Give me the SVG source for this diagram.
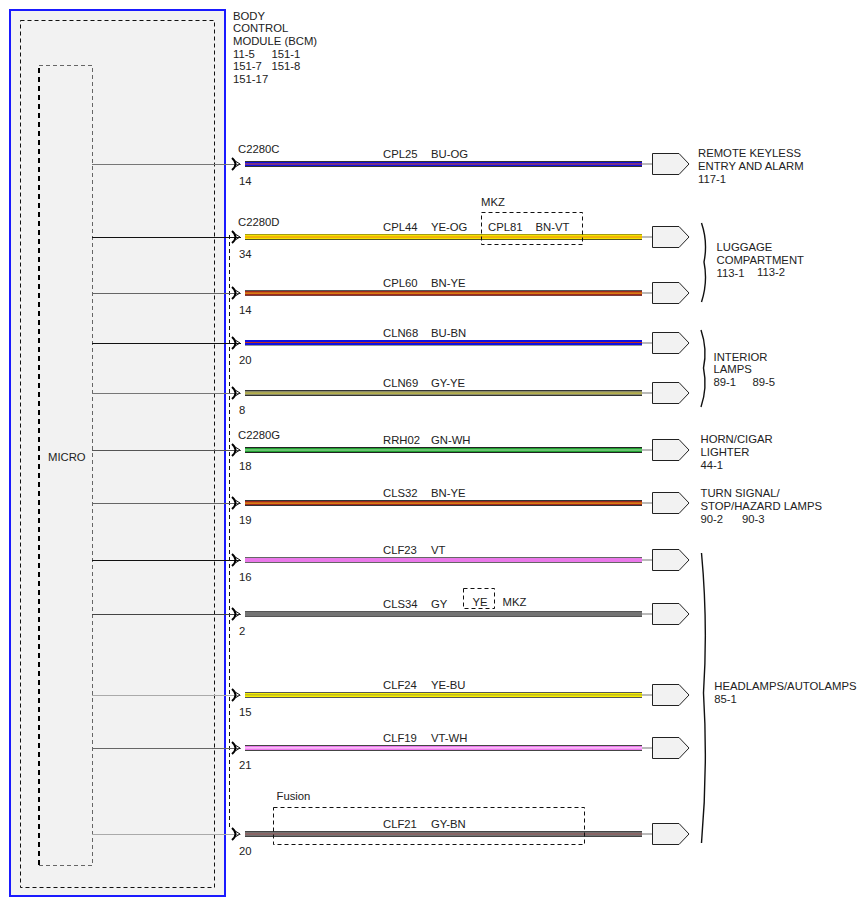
<svg xmlns="http://www.w3.org/2000/svg" width="867" height="906" viewBox="0 0 867 906">
<style>
text{font-family:"Liberation Sans",Arial,sans-serif;font-size:11.3px;fill:#222}
.lead{stroke-width:1;fill:none}
.pent{fill:#f2f2f2;stroke:#222;stroke-width:1}
.tail{stroke:#777;stroke-width:1.2}
.jack{fill:none;stroke:#000;stroke-width:2}
.chev{fill:none;stroke:#111;stroke-width:1}
.dash{fill:none;stroke:#111;stroke-width:1;stroke-dasharray:4,3}
.brace{fill:none;stroke:#111;stroke-width:1.4}
</style>
<rect width="867" height="906" fill="#fff"/>
<g id="bcm">
<rect x="10" y="10" width="215" height="886" fill="#f2f2f2" stroke="#1a1aff" stroke-width="2"/>
<rect x="20.5" y="20.5" width="194" height="867" class="dash" stroke-dasharray="5,4"/>
<text x="233" y="19.5">BODY</text>
<text x="233" y="32.2">CONTROL</text>
<text x="233" y="44.9">MODULE (BCM)</text>
<text x="233" y="57.6">11-5</text><text x="271.5" y="57.6">151-1</text>
<text x="233" y="70.3">151-7</text><text x="271.5" y="70.3">151-8</text>
<text x="233" y="83">151-17</text>
</g>
<g id="micro">
<path d="M39,865 V65" fill="none" stroke="#000" stroke-width="2" stroke-dasharray="5,4"/>
<path d="M39,65.5 H92.5 V865.5 H39" fill="none" stroke="#666" stroke-width="1" stroke-dasharray="4,3"/>
<text x="48" y="461">MICRO</text>
</g>
<path d="M229.5,235 V829" class="dash"/>
<g id="connectors">
<path class="lead" stroke="#777" d="M92,164.5 H241"/>
<path class="lead" stroke="#111" d="M92,237.5 H241"/>
<path class="lead" stroke="#666" d="M92,293.5 H241"/>
<path class="lead" stroke="#111" d="M92,343.5 H241"/>
<path class="lead" stroke="#777" d="M92,393.5 H241"/>
<path class="lead" stroke="#555" d="M92,450.5 H241"/>
<path class="lead" stroke="#666" d="M92,503.5 H241"/>
<path class="lead" stroke="#111" d="M92,560.5 H241"/>
<path class="lead" stroke="#444" d="M92,614.5 H241"/>
<path class="lead" stroke="#aaa" d="M92,695.5 H241"/>
<path class="lead" stroke="#666" d="M92,748.5 H241"/>
<path class="lead" stroke="#aaa" d="M92,834.5 H241"/>
<g>
<path class="jack" d="M232,158 Q239,164 232,170"/><path class="chev" d="M236,161.5 L240,164 L236,166.5"/>
<path class="jack" d="M232,231 Q239,237 232,243"/><path class="chev" d="M236,234.5 L240,237 L236,239.5"/>
<path class="jack" d="M232,287 Q239,293 232,299"/><path class="chev" d="M236,290.5 L240,293 L236,295.5"/>
<path class="jack" d="M232,337 Q239,343 232,349"/><path class="chev" d="M236,340.5 L240,343 L236,345.5"/>
<path class="jack" d="M232,387 Q239,393 232,399"/><path class="chev" d="M236,390.5 L240,393 L236,395.5"/>
<path class="jack" d="M232,444 Q239,450 232,456"/><path class="chev" d="M236,447.5 L240,450 L236,452.5"/>
<path class="jack" d="M232,497 Q239,503 232,509"/><path class="chev" d="M236,500.5 L240,503 L236,505.5"/>
<path class="jack" d="M232,554 Q239,560 232,566"/><path class="chev" d="M236,557.5 L240,560 L236,562.5"/>
<path class="jack" d="M232,608 Q239,614 232,620"/><path class="chev" d="M236,611.5 L240,614 L236,616.5"/>
<path class="jack" d="M232,689 Q239,695 232,701"/><path class="chev" d="M236,692.5 L240,695 L236,697.5"/>
<path class="jack" d="M232,742 Q239,748 232,754"/><path class="chev" d="M236,745.5 L240,748 L236,750.5"/>
<path class="jack" d="M232,828 Q239,834 232,840"/><path class="chev" d="M236,831.5 L240,834 L236,836.5"/>
</g>
<g id="w1"><rect x="245" y="161" width="397" height="6" fill="#333"/><rect x="245" y="162" width="397" height="4" fill="#1010e0"/><rect x="245" y="163.5" width="397" height="1" fill="#e05030"/></g>
<g id="w2"><rect x="245" y="234" width="397" height="6" fill="#555520"/><rect x="245" y="234.5" width="397" height="4.5" fill="#f4e400"/><rect x="245" y="236.5" width="397" height="1" fill="#f08010"/></g>
<g id="w3"><rect x="245" y="290" width="397" height="6" fill="#555"/><rect x="245" y="291" width="397" height="4.5" fill="#a0281c"/><rect x="245" y="292.5" width="397" height="1.2" fill="#f0a010"/></g>
<g id="w4"><rect x="245" y="340" width="397" height="6" fill="#999"/><rect x="245" y="340" width="397" height="5" fill="#1010e0"/><rect x="245" y="342" width="397" height="1" fill="#c03020"/></g>
<g id="w5"><rect x="245" y="390" width="397" height="6" fill="#333"/><rect x="245" y="391" width="397" height="4" fill="#8a8a6a"/><rect x="245" y="392.5" width="397" height="1.2" fill="#c8c040"/></g>
<g id="w6"><rect x="245" y="447" width="397" height="6" fill="#222"/><rect x="245" y="448" width="397" height="4" fill="#20a030"/><rect x="245" y="449.5" width="397" height="1" fill="#b0e8b0"/></g>
<g id="w7"><rect x="245" y="500" width="397" height="6" fill="#333"/><rect x="245" y="501" width="397" height="4" fill="#a0281c"/><rect x="245" y="502.5" width="397" height="1.2" fill="#f0a010"/></g>
<g id="w8"><rect x="245" y="557" width="397" height="6" fill="#666"/><rect x="245" y="558" width="397" height="4" fill="#ea78ea"/></g>
<g id="w9"><rect x="245" y="611" width="397" height="6" fill="#555"/><rect x="245" y="612" width="397" height="4" fill="#747474"/></g>
<g id="w10"><rect x="245" y="692" width="397" height="6" fill="#555"/><rect x="245" y="693" width="397" height="4" fill="#f8f000"/><rect x="245" y="694.5" width="397" height="0.8" fill="#8a8a40"/></g>
<g id="w11"><rect x="245" y="745" width="397" height="6" fill="#444"/><rect x="245" y="746" width="397" height="4" fill="#ea78ea"/><rect x="245" y="747.3" width="397" height="1.2" fill="#ffd8ff"/></g>
<g id="w12"><rect x="245" y="831" width="397" height="6" fill="#444"/><rect x="245" y="832" width="397" height="4" fill="#727272"/><rect x="245" y="833.5" width="397" height="1" fill="#a05858"/></g>
<path class="tail" d="M642,164 H652 M642,237 H652 M642,293 H652 M642,343 H652 M642,393 H652 M642,450 H652 M642,503 H652 M642,560 H652 M642,614 H652 M642,695 H652 M642,748 H652 M642,834 H652"/>
</g>
<g id="wire-labels">
<text x="238" y="153">C2280C</text><text x="239" y="185">14</text>
<text x="383" y="158">CPL25</text><text x="431" y="158">BU-OG</text>
<text x="238" y="226">C2280D</text><text x="239" y="258">34</text>
<text x="383" y="231">CPL44</text><text x="431" y="231">YE-OG</text>
<text x="239" y="314">14</text>
<text x="383" y="287">CPL60</text><text x="431" y="287">BN-YE</text>
<text x="239" y="364">20</text>
<text x="383" y="337">CLN68</text><text x="431" y="337">BU-BN</text>
<text x="239" y="414">8</text>
<text x="383" y="387">CLN69</text><text x="431" y="387">GY-YE</text>
<text x="238" y="439">C2280G</text><text x="239" y="470">18</text>
<text x="383" y="443.5">RRH02</text><text x="431" y="443.5">GN-WH</text>
<text x="239" y="523.5">19</text>
<text x="383" y="497">CLS32</text><text x="431" y="497">BN-YE</text>
<text x="239" y="580.5">16</text>
<text x="383" y="554">CLF23</text><text x="431" y="554">VT</text>
<text x="239" y="635">2</text>
<text x="383" y="607.5">CLS34</text><text x="431" y="607.5">GY</text>
<text x="239" y="715.5">15</text>
<text x="383" y="689">CLF24</text><text x="431" y="689">YE-BU</text>
<text x="239" y="768.5">21</text>
<text x="383" y="742">CLF19</text><text x="431" y="742">VT-WH</text>
<text x="239" y="854.5">20</text>
<text x="383" y="827.5">CLF21</text><text x="431" y="827.5">GY-BN</text>
</g>
<g id="mkz-cpl81">
<rect x="481.5" y="212.5" width="101" height="32" class="dash"/>
<text x="481" y="206">MKZ</text>
<text x="488" y="231">CPL81</text><text x="535.5" y="231">BN-VT</text>
</g>
<g id="mkz-ye">
<rect x="463.5" y="588.5" width="31" height="20" class="dash"/>
<text x="472.5" y="605.5">YE</text>
<text x="502.5" y="605.5">MKZ</text>
</g>
<g id="fusion">
<rect x="273.5" y="807.5" width="311" height="37" class="dash"/>
<text x="276.5" y="799.5">Fusion</text>
</g>
<g id="pentagons">
<path class="pent" d="M652.5,153.5 H679 L689,164 L679,174.5 H652.5 Z"/>
<path class="pent" d="M652.5,226.5 H679 L689,237 L679,247.5 H652.5 Z"/>
<path class="pent" d="M652.5,282.5 H679 L689,293 L679,303.5 H652.5 Z"/>
<path class="pent" d="M652.5,332.5 H679 L689,343 L679,353.5 H652.5 Z"/>
<path class="pent" d="M652.5,382.5 H679 L689,393 L679,403.5 H652.5 Z"/>
<path class="pent" d="M652.5,439.5 H679 L689,450 L679,460.5 H652.5 Z"/>
<path class="pent" d="M652.5,492.5 H679 L689,503 L679,513.5 H652.5 Z"/>
<path class="pent" d="M652.5,549.5 H679 L689,560 L679,570.5 H652.5 Z"/>
<path class="pent" d="M652.5,603.5 H679 L689,614 L679,624.5 H652.5 Z"/>
<path class="pent" d="M652.5,684.5 H679 L689,695 L679,705.5 H652.5 Z"/>
<path class="pent" d="M652.5,737.5 H679 L689,748 L679,758.5 H652.5 Z"/>
<path class="pent" d="M652.5,823.5 H679 L689,834 L679,844.5 H652.5 Z"/>
</g>
<g id="rke">
<text x="698" y="157.3">REMOTE KEYLESS</text>
<text x="698" y="169.8">ENTRY AND ALARM</text>
<text x="698" y="182.5">117-1</text>
</g>
<g id="luggage">
<path class="brace" d="M701.5,223 Q708,242 704,262 Q708,282 701.5,302"/>
<text x="716.5" y="251">LUGGAGE</text>
<text x="716.5" y="263.5">COMPARTMENT</text>
<text x="716.5" y="277">113-1</text><text x="757" y="276">113-2</text>
</g>
<g id="interior">
<path class="brace" d="M701,330 Q707.5,349 703.5,368 Q707.5,388 701,407"/>
<text x="713.5" y="360.5">INTERIOR</text>
<text x="713.5" y="373">LAMPS</text>
<text x="713.5" y="385.5">89-1</text><text x="752.5" y="385.5">89-5</text>
</g>
<g id="horn">
<text x="700.5" y="443.3">HORN/CIGAR</text>
<text x="700.5" y="456">LIGHTER</text>
<text x="700.5" y="468.5">44-1</text>
</g>
<g id="turn">
<text x="700.5" y="497.3">TURN SIGNAL/</text>
<text x="700.5" y="510">STOP/HAZARD LAMPS</text>
<text x="700.5" y="522.7">90-2</text><text x="742" y="522.7">90-3</text>
</g>
<g id="headlamps">
<path class="brace" d="M701.5,553 Q708,623 703.5,693 Q708,768 701.5,843"/>
<text x="714.3" y="690">HEADLAMPS/AUTOLAMPS</text>
<text x="714.3" y="703.3">85-1</text>
</g>
</svg>
